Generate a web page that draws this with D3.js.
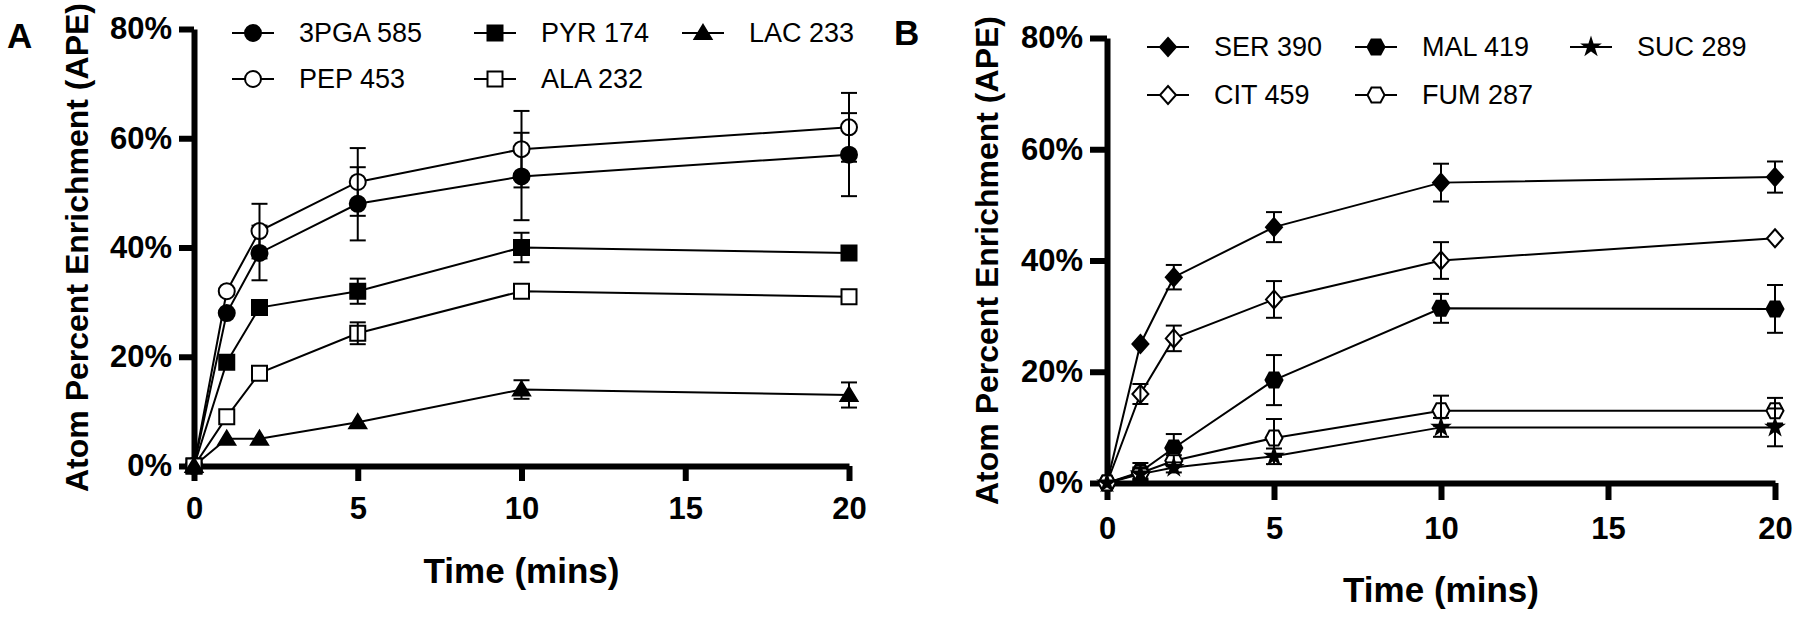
<!DOCTYPE html>
<html>
<head>
<meta charset="utf-8">
<script src="https://cdn.jsdelivr.net/npm/d3@7"></script>
<style>
  body { margin: 0; background: #fff; }
  svg { display: block; font-family: "Liberation Sans", Arial, sans-serif; }
</style>
</head>
<body>
<script>
// shared x values (minutes) and ticks
var times = [0, 1, 2, 5, 10, 20];
var xTicks = [0, 5, 10, 15, 20];
var yTicks = [0, 20, 40, 60, 80];

// panel A - glycolytic intermediates (APE %, mean and error)
var namesA = ["3PGA 585", "PEP 453", "PYR 174", "ALA 232", "LAC 233"];
var valuesA = [
  [0, 28, 39, 48, 53, 57],
  [0, 32, 43, 52, 58, 62],
  [0, 19, 29, 32, 40, 39],
  [0, 9, 17, 24.3, 32, 31],
  [0, 5, 5, 8, 14, 13]
];
var errorsA = [
  [0, 0, 5, 6.7, 8, 7.6],
  [0, 0, 5, 6.2, 7, 6.3],
  [0, 0, 0, 2.3, 2.7, 0],
  [0, 0, 0, 2, 0, 0],
  [0, 0, 0, 0, 1.7, 2.3]
];

// panel B - TCA / amino acids
var namesB = ["SER 390", "CIT 459", "MAL 419", "FUM 287", "SUC 289"];
var valuesB = [
  [0, 25, 37, 46, 54, 55],
  [0, 16, 26, 33, 40, 44],
  [0, 2, 6.3, 18.5, 31.4, 31.3],
  [0, 1.8, 4, 8.1, 13, 13],
  [0, 1.6, 2.8, 4.8, 10, 10]
];
var errorsB = [
  [0, 0, 2.2, 2.7, 3.4, 2.8],
  [0, 1.8, 2.3, 3.3, 3.3, 0],
  [0, 1.6, 2.5, 4.5, 2.6, 4.3],
  [0, 1, 1, 3.4, 2.7, 2.3],
  [0, 1, 0.9, 1.4, 1.7, 3.4]
];

var svg = d3.select("body").append("svg")
  .attr("width", 1800)
  .attr("height", 618);

// marker outlines, centred on 0,0
function markerPath(shape) {
  if (shape == "circle") return d3.symbol(d3.symbolCircle, Math.PI * 64)();
  if (shape == "star") return d3.symbol(d3.symbolStar, 75)();
  var pts;
  if (shape == "square") pts = [[-7.5, -7.5], [7.5, -7.5], [7.5, 7.5], [-7.5, 7.5]];
  if (shape == "triangle") pts = [[0, -8], [8.5, 6], [-8.5, 6]];
  if (shape == "diamond") pts = [[0, -9], [8, 0], [0, 9], [-8, 0]];
  if (shape == "hexagon") pts = [[-4.5, -7.5], [4.5, -7.5], [8.5, 0], [4.5, 7.5], [-4.5, 7.5], [-8.5, 0]];
  return "M" + pts.join("L") + "Z";
}

function drawPanel(p) {
  var g = svg.append("g");
  var x = d3.scaleLinear().domain([0, 20]).range([p.left, p.right]);
  var y = d3.scaleLinear().domain([0, 80]).range([p.bottom, p.top]);

  var yAxis = g.append("g")
    .attr("transform", "translate(" + p.left + ",0)")
    .call(d3.axisLeft(y).tickValues(yTicks).tickFormat(function(d) { return d + "%"; })
      .tickSize(p.tick).tickSizeOuter(0).tickPadding(7));
  var xAxis = g.append("g")
    .attr("transform", "translate(0," + p.bottom + ")")
    .call(d3.axisBottom(x).tickValues(xTicks).tickSize(p.tick).tickSizeOuter(0).tickPadding(p.xPad));
  [yAxis, xAxis].forEach(function(a) {
    a.select(".domain").attr("stroke", "#000").attr("stroke-width", 6);
    a.selectAll(".tick line").attr("stroke", "#000").attr("stroke-width", 6);
    a.selectAll("text").attr("font-size", 31).attr("font-weight", "bold").attr("fill", "#000");
  });

  // axis titles
  g.append("text")
    .attr("x", (p.left + p.right) / 2).attr("y", p.xTitleY)
    .attr("text-anchor", "middle").attr("font-size", 35).attr("font-weight", "bold")
    .text("Time (mins)");
  g.append("text")
    .attr("transform", "translate(" + p.yTitleX + "," + (p.top + p.bottom) / 2 + ") rotate(-90)")
    .attr("text-anchor", "middle").attr("font-size", 32).attr("font-weight", "bold")
    .text("Atom Percent Enrichment (APE)");

  // panel letter
  g.append("text")
    .attr("x", p.letterX).attr("y", p.letterY)
    .attr("font-size", 35).attr("font-weight", "bold")
    .text(p.letter);

  var series = p.names.map(function(n, i) {
    return {
      name: n, shape: p.shapes[i], filled: p.filled[i],
      pts: times.map(function(t, j) { return { t: t, v: p.values[i][j], e: p.errors[i][j] }; })
    };
  });

  var line = d3.line().x(function(d) { return x(d.t); }).y(function(d) { return y(d.v); });

  g.selectAll(".series-line").data(series).enter().append("path")
    .attr("class", "series-line")
    .attr("d", function(s) { return line(s.pts); })
    .attr("fill", "none").attr("stroke", "#000").attr("stroke-width", 2);

  series.forEach(function(s) {
    var sg = g.append("g");
    sg.selectAll("path.mk").data(s.pts).enter().append("path")
      .attr("class", "mk")
      .attr("d", markerPath(s.shape))
      .attr("transform", function(d) { return "translate(" + x(d.t) + "," + y(d.v) + ")"; })
      .attr("fill", s.filled ? "#000" : "#fff")
      .attr("stroke", "#000").attr("stroke-width", 2);

    var eb = sg.selectAll("g.eb").data(s.pts.filter(function(d) { return d.e > 0; })).enter()
      .append("g").attr("class", "eb")
      .attr("stroke", "#000").attr("stroke-width", 2);
    eb.append("line")
      .attr("x1", function(d) { return x(d.t); }).attr("x2", function(d) { return x(d.t); })
      .attr("y1", function(d) { return y(d.v + d.e); }).attr("y2", function(d) { return y(d.v - d.e); });
    [1, -1].forEach(function(sign) {
      eb.append("line")
        .attr("x1", function(d) { return x(d.t) - 8; }).attr("x2", function(d) { return x(d.t) + 8; })
        .attr("y1", function(d) { return y(d.v + sign * d.e); })
        .attr("y2", function(d) { return y(d.v + sign * d.e); });
    });
  });

  // legend, two rows filled column by column
  var leg = g.selectAll(".leg").data(series).enter().append("g")
    .attr("class", "leg")
    .attr("transform", function(s, i) {
      return "translate(" + p.legX[Math.floor(i / 2)] + "," + p.legY[i % 2] + ")";
    });
  leg.append("line").attr("x1", -21).attr("x2", 21)
    .attr("stroke", "#000").attr("stroke-width", 2);
  leg.append("path").attr("d", function(s) { return markerPath(s.shape); })
    .attr("fill", function(s) { return s.filled ? "#000" : "#fff"; })
    .attr("stroke", "#000").attr("stroke-width", 2);
  leg.append("text").attr("x", 46).attr("dy", "0.35em")
    .attr("font-size", 27).text(function(s) { return s.name; });
}

drawPanel({
  letter: "A", letterX: 7, letterY: 48,
  left: 194, right: 849, top: 29, bottom: 466, tick: 15, xPad: 16,
  xTitleY: 583, yTitleX: 88,
  names: namesA, values: valuesA, errors: errorsA,
  shapes: ["circle", "circle", "square", "square", "triangle"],
  filled: [true, false, true, false, true],
  legX: [253, 495, 703], legY: [33, 79]
});

drawPanel({
  letter: "B", letterX: 894, letterY: 45,
  left: 1107, right: 1775, top: 38, bottom: 483, tick: 17, xPad: 17,
  xTitleY: 602, yTitleX: 998,
  names: namesB, values: valuesB, errors: errorsB,
  shapes: ["diamond", "diamond", "hexagon", "hexagon", "star"],
  filled: [true, false, true, false, true],
  legX: [1168, 1376, 1591], legY: [47, 95]
});
</script>
</body>
</html>
